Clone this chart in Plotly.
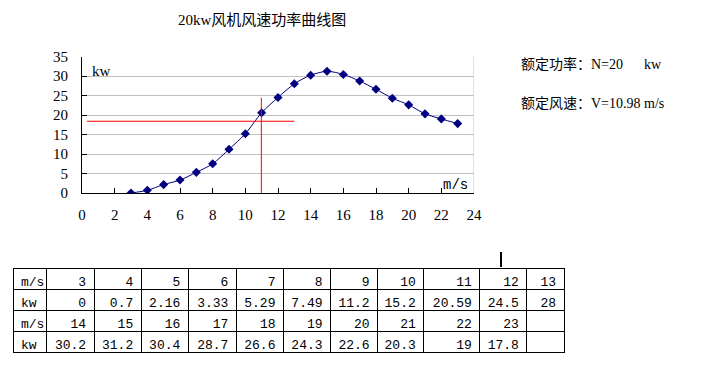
import plotly.graph_objects as go

speed = [3, 4, 5, 6, 7, 8, 9, 10, 11, 12, 13, 14, 15, 16, 17, 18, 19, 20, 21, 22, 23]
power = [0, 0.7, 2.16, 3.33, 5.29, 7.49, 11.2, 15.2, 20.59, 24.5, 28,
         30.2, 31.2, 30.4, 28.7, 26.6, 24.3, 22.6, 20.3, 19, 17.8]
table_speed_1 = ["3", "4", "5", "6", "7", "8", "9", "10", "11", "12", "13"]
table_power_1 = ["0", "0.7", "2.16", "3.33", "5.29", "7.49", "11.2", "15.2", "20.59", "24.5", "28"]
table_speed_2 = ["14", "15", "16", "17", "18", "19", "20", "21", "22", "23", ""]
table_power_2 = ["30.2", "31.2", "30.4", "28.7", "26.6", "24.3", "22.6", "20.3", "19", "17.8", ""]
rated_speed = 10.98
rated_power_line = 18.4
vline_top = 24.4
hline_x = [0.3, 13]

W, H = 712, 369
def px(x):
    return x / W
def py(y):
    return 1 - y / H

fig = go.Figure()
fig.add_trace(go.Scatter(
    x=speed, y=power, mode="lines+markers",
    line=dict(color="#000080", width=1, shape="spline", smoothing=0.8),
    marker=dict(symbol="diamond", size=7, color="#000080"),
    showlegend=False, hoverinfo="skip"))

cols = []
for i in range(11):
    cols.append([table_power_1[i], table_speed_2[i], table_power_2[i]])
header_vals = ["m/s"] + table_speed_1
cell_vals = [["kw", "m/s", "kw"]] + cols
widths = [33, 48, 47, 47, 48, 47, 47, 47, 46, 56, 47, 37]
tfont = dict(family="Liberation Mono, Noto Sans CJK SC", size=13, color="black")
fig.add_trace(go.Table(
    domain=dict(x=[px(13), px(564)], y=[py(362), py(268)]),
    columnwidth=widths,
    header=dict(values=header_vals, height=21,
                align=["left"] + ["right"] * 11,
                fill=dict(color="white"), line=dict(color="black", width=1),
                font=tfont),
    cells=dict(values=cell_vals, height=21,
               align=["left"] + ["right"] * 11,
               fill=dict(color="white"), line=dict(color="black", width=1),
               font=tfont)))

shapes = [
    dict(type="line", xref="x", yref="y", x0=hline_x[0], x1=hline_x[1],
         y0=rated_power_line, y1=rated_power_line, line=dict(color="red", width=1)),
    dict(type="line", xref="x", yref="y", x0=rated_speed, x1=rated_speed,
         y0=0, y1=vline_top, line=dict(color="red", width=1)),
    dict(type="line", xref="x", yref="y", x0=24, x1=24, y0=0, y1=35,
         line=dict(color="#c0c0c0", width=1)),
    dict(type="line", xref="paper", yref="paper", x0=px(501), x1=px(501),
         y0=py(252), y1=py(267), line=dict(color="black", width=2)),
]

ann_font = dict(family="Liberation Serif, Noto Sans CJK SC", size=14, color="black")
def ann(text, x, y, font, xanchor="left"):
    return dict(text=text, x=px(x), y=py(y), xref="paper", yref="paper",
                xanchor=xanchor, yanchor="middle", showarrow=False, font=font)

annotations = [
    ann("20kw风机风速功率曲线图", 262, 20,
        dict(family="Liberation Serif, Noto Sans CJK SC", size=15, color="black"), "center"),
    ann("额定功率：N=20      kw", 519, 64, ann_font),
    ann("额定风速：V=10.98 m/s", 519, 104, ann_font),
    ann("kw", 90, 71, dict(family="Liberation Serif", size=15, color="black")),
    ann("m/s", 441, 185, dict(family="Liberation Mono", size=14, color="black")),
]

tick_font = dict(family="Liberation Serif", size=15, color="black")
fig.update_layout(
    template="none",
    width=W, height=H, margin=dict(l=0, r=0, t=0, b=0, pad=0, autoexpand=False),
    paper_bgcolor="white", plot_bgcolor="white",
    shapes=shapes, annotations=annotations,
    xaxis=dict(domain=[px(82), px(474)], range=[0, 24], dtick=2, tick0=0,
               ticks="inside", ticklen=5, tickcolor="black", automargin=False,
               ticklabelstandoff=8,
               showline=True, linecolor="black", linewidth=1,
               showgrid=False, zeroline=False, tickfont=tick_font),
    yaxis=dict(domain=[py(193), py(56.5)], range=[0, 35], dtick=5, tick0=0,
               ticks="inside", ticklen=5, tickcolor="black", automargin=False,
               ticklabelstandoff=10,
               showline=True, linecolor="black", linewidth=1,
               showgrid=True, gridcolor="#c0c0c0", zeroline=False, tickfont=tick_font),
)

fig.write_html("out.html", config={"displayModeBar": False},
               post_script="document.body.style.margin='0';document.body.style.padding='0';")
